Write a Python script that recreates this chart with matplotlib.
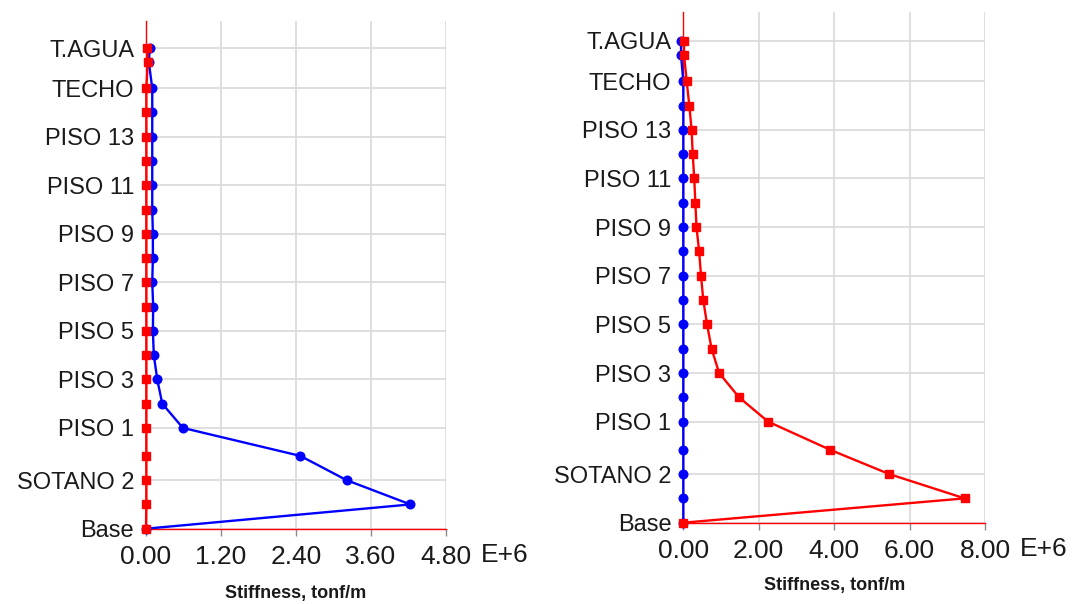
import matplotlib
matplotlib.use("Agg")
import matplotlib.pyplot as plt
from matplotlib.transforms import blended_transform_factory, offset_copy

plt.rcParams['font.family'] = ['Liberation Sans', 'DejaVu Sans']

# Story names (bottom to top) and elevations (m)
levels = ["Base", "SOTANO 3", "SOTANO 2", "SOTANO 1", "PISO 1", "PISO 2", "PISO 3",
          "PISO 4", "PISO 5", "PISO 6", "PISO 7", "PISO 8", "PISO 9", "PISO 10",
          "PISO 11", "PISO 12", "PISO 13", "PISO 14", "TECHO", "AZOTEA", "T.AGUA"]
elev = [0.0, 2.6, 5.2, 7.8, 10.8, 13.4, 16.0, 18.6, 21.2, 23.8, 26.4, 29.0, 31.6,
        34.2, 36.8, 39.4, 42.0, 44.6, 47.2, 50.0, 51.5]

# Stiffness (E+6 tonf/m) — left chart
left_blue = [0.0, 4.23, 3.21, 2.47, 0.59, 0.26, 0.18, 0.125, 0.11, 0.115, 0.10,
             0.11, 0.11, 0.10, 0.10, 0.10, 0.10, 0.10, 0.10, 0.045, 0.06]
left_red = [0.0, 0.005, 0.005, 0.005, 0.005, 0.005, 0.005, 0.005, 0.005, 0.005, 0.005,
            0.005, 0.005, 0.005, 0.005, 0.005, 0.005, 0.005, 0.005, 0.03, 0.02]
left_ticks = [0.0, 1.2, 2.4, 3.6, 4.8]
left_ticklabels = ["0.00", "1.20", "2.40", "3.60", "4.80"]

# Stiffness (E+6 tonf/m) — right chart
right_blue = [0.0] * 19 + [-0.06, -0.06]
right_red = [0.0, 7.46, 5.46, 3.89, 2.25, 1.48, 0.95, 0.75, 0.63, 0.53, 0.47,
             0.42, 0.35, 0.32, 0.29, 0.25, 0.22, 0.16, 0.09, 0.02, 0.02]
right_ticks = [0.0, 2.0, 4.0, 6.0, 8.0]
right_ticklabels = ["0.00", "2.00", "4.00", "6.00", "8.00"]

xlabel = "Stiffness, tonf/m"
exp_label = "E+6"

BLUE = "#0000ff"
RED = "#ff0000"
GRID = "#d9d9d9"
TICK = "#8c8c8c"
TXT = "#1a1a1a"

fig = plt.figure(figsize=(10.76, 6.04), dpi=100)
ax1 = fig.add_axes([146/1076, 1-528.7/604, 300/1076, (528.7-21)/604])
ax2 = fig.add_axes([683.3/1076, 1-522.7/604, 301.7/1076, (522.7-12)/604])


def style(ax, blue, red, ticks, ticklabels, ytop, labelpad):
    ax.plot(blue, elev, color=BLUE, lw=1.7, marker='o', ms=6.2, clip_on=False, zorder=3)
    ax.plot(red, elev, color=RED, lw=1.7, marker='s', ms=6, clip_on=False, zorder=4)
    ax.set_xlim(ticks[0], ticks[-1])
    ax.set_ylim(0, ytop)
    ax.set_xticks(ticks)
    ax.set_xticklabels(ticklabels, fontsize=19, color=TXT)
    ax.set_yticks(elev[::2])
    ax.set_yticklabels(levels[::2], fontsize=17, color=TXT)
    ax.tick_params(axis='y', length=0, pad=8.5)
    ax.tick_params(axis='x', length=5, color=TICK, width=1.0, pad=7)
    ax.grid(True, color=GRID, lw=1.2, zorder=0)
    ax.set_axisbelow(True)
    for s in ("top", "right"):
        ax.spines[s].set_visible(False)
    for s in ("left", "bottom"):
        ax.spines[s].set_color(RED)
        ax.spines[s].set_linewidth(1.0)
        ax.spines[s].set_zorder(2)
    ax.set_xlabel(xlabel, fontsize=13, fontweight='bold', color=TXT, labelpad=labelpad)
    trans = offset_copy(blended_transform_factory(ax.transData, ax.transAxes),
                        fig=fig, x=35, y=-14.7, units='dots')
    ax.text(ticks[-1], 0, exp_label, transform=trans, fontsize=19, color=TXT,
            ha='left', va='top', clip_on=False)


style(ax1, left_blue, left_red, left_ticks, left_ticklabels, 54.4, 11)
style(ax2, right_blue, right_red, right_ticks, right_ticklabels, 54.6, 10)

fig.savefig("out.png", dpi=100, facecolor="white")
